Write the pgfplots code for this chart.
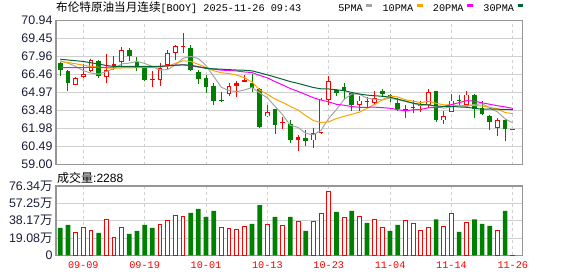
\documentclass[border=0pt]{standalone}
\usepackage{pgfplots}
\usepackage{pgfplotstable}
\pgfplotsset{compat=1.18}
\usepackage{fontspec}
\setmainfont{Liberation Sans}
\newfontfamily\cjk{Noto Sans CJK SC}
\newfontfamily\mono{Liberation Mono}

\definecolor{upred}{RGB}{255,0,0}
\definecolor{dngreen}{RGB}{0,128,0}
\definecolor{maA}{RGB}{165,165,165}
\definecolor{maB}{RGB}{250,165,0}
\definecolor{maC}{RGB}{255,0,255}
\definecolor{maD}{RGB}{0,102,51}
\definecolor{tickc}{RGB}{25,30,55}
\definecolor{framec}{RGB}{150,150,150}
\definecolor{gridc}{RGB}{208,208,208}

\pgfplotsset{candle/.style={draw=none, mark=none, forget plot,
  error bars/.cd, y dir=plus, y explicit, error mark=none}}

% up candles (close > open), hollow red
\pgfplotstableread{
x o h l c
2 65.61 66.30 65.58 66.19
3 66.25 67.32 66.22 66.53
4 66.76 67.75 66.70 67.64
6 66.26 68.20 65.75 66.88
8 67.50 68.72 67.15 68.53
13 66.06 67.44 65.51 67.02
14 67.30 68.54 66.89 68.26
15 68.30 68.95 67.72 68.85
22 64.87 65.78 64.68 65.51
27 63.00 63.99 62.98 63.38
33 61.01 62.06 60.41 61.64
34 61.64 64.54 61.56 64.40
35 64.40 66.39 63.99 65.92
39 63.93 64.68 63.44 64.32
41 64.12 65.15 63.99 64.54
48 63.99 65.31 63.66 65.04
50 62.67 63.44 62.39 63.02
51 63.38 64.87 63.38 64.32
53 63.99 65.15 63.85 64.82
57 62.01 62.89 61.37 62.72
}\upc

% small red candles (thin body)
\pgfplotstableread{
x o h l c
7 67.18 68.00 66.88 67.38
12 66.06 66.75 65.42 66.12
16 68.80 69.95 68.28 68.86
23 65.54 65.92 64.60 65.74
24 65.87 66.47 65.85 66.06
29 62.44 62.94 61.92 62.50
31 61.07 61.45 60.13 61.28
46 63.73 64.40 63.25 63.79
47 63.86 64.32 63.38 63.92
}\smallc

% down candles, filled green
\pgfplotstableread{
x o h l c
0 67.46 67.52 66.38 66.88
1 66.81 66.87 65.09 65.77
5 67.63 67.66 66.22 66.35
9 68.54 68.68 67.63 67.99
10 67.52 67.91 66.74 67.02
11 67.02 67.06 65.98 66.06
17 68.68 68.90 66.75 66.89
18 66.69 66.89 65.70 66.14
19 66.20 66.47 64.95 65.42
20 65.51 65.78 63.99 64.32
21 64.39 65.04 64.21 64.32
25 65.78 66.53 65.04 65.37
26 65.31 65.36 62.06 62.11
28 63.58 63.62 61.56 62.28
30 62.39 62.67 60.82 61.01
32 61.23 61.84 60.51 60.95
36 65.20 65.31 64.68 64.93
37 65.42 65.78 64.40 65.15
38 64.95 65.04 63.44 63.93
40 64.27 64.60 63.66 64.21
42 65.15 65.31 64.60 64.87
43 64.76 64.87 64.21 64.70
44 64.13 64.54 63.44 63.58
45 63.62 63.91 62.89 63.56
49 65.15 65.15 62.56 62.67
52 64.40 64.78 63.85 64.33
54 64.76 64.90 62.89 63.58
55 63.71 64.32 63.16 63.22
56 63.02 63.08 61.86 62.56
58 62.72 62.83 60.96 61.92
59 61.96 62.00 61.85 61.91
}\dnc

% moving averages
\pgfplotstableread{
x ma5 ma10 ma20 ma30
0 67.62 67.55 67.05 67.75
1 67.42 67.47 67.05 67.68
2 67.15 67.37 67.05 67.62
3 66.80 67.25 67.05 67.56
4 66.60 67.15 67.07 67.45
5 66.51 67.08 67.08 67.35
6 66.72 67.02 67.08 67.22
7 66.97 67.00 67.10 67.15
8 67.36 67.02 67.12 67.15
9 67.43 67.02 67.12 67.15
10 67.56 67.04 67.12 67.15
11 67.40 67.06 67.12 67.15
12 67.14 67.06 67.12 67.15
13 66.84 67.10 67.15 67.15
14 66.89 67.16 67.20 67.20
15 67.26 67.41 67.25 67.25
16 67.82 67.61 67.28 67.28
17 67.97 67.56 67.20 67.25
18 67.80 67.32 67.10 67.12
19 67.23 67.06 67.04 66.98
20 66.32 66.79 66.92 66.95
21 65.42 66.62 66.84 66.92
22 65.14 66.56 66.81 66.88
23 65.06 66.43 66.77 66.85
24 65.19 66.21 66.69 66.83
25 65.40 65.86 66.64 66.78
26 64.96 65.19 66.40 66.62
27 64.53 64.84 66.20 66.45
28 63.84 64.45 65.89 66.27
29 63.13 64.16 65.61 66.08
30 62.26 63.83 65.31 65.89
31 62.09 63.53 65.08 65.74
32 61.60 63.07 64.82 65.57
33 61.48 62.66 64.55 65.40
34 61.86 62.50 64.36 65.29
35 62.84 62.55 64.21 65.28
36 63.57 62.83 64.01 65.21
37 64.41 63.01 63.93 65.14
38 64.87 63.18 63.82 64.99
39 64.85 63.36 63.76 64.86
40 64.51 63.68 63.76 64.77
41 64.43 64.00 63.77 64.72
42 64.37 64.39 63.73 64.67
43 64.53 64.70 63.68 64.60
44 64.38 64.62 63.56 64.44
45 64.25 64.38 63.47 64.27
46 64.10 64.27 63.55 64.10
47 63.91 64.14 63.58 64.00
48 63.98 64.26 63.72 63.96
49 63.80 64.09 63.73 63.87
50 63.69 63.97 63.83 63.83
51 63.79 63.95 63.98 63.83
52 63.88 63.90 64.15 63.79
53 63.83 63.91 64.31 63.76
54 64.01 63.91 64.27 63.68
55 64.05 63.87 64.13 63.60
56 63.70 63.75 64.01 63.62
57 63.38 63.63 63.89 63.60
58 62.80 63.32 63.79 63.59
59 62.47 63.24 63.67 63.57
}\mas

% volume (10k lots)
\pgfplotstableread{
x v
2 25.7
3 30.8
4 27.9
6 39.6
7 19.8
8 30.8
13 34.1
14 38.9
15 44.0
16 43.3
21 30.8
22 30.1
23 29.0
24 31.9
27 34.1
29 33.0
31 37.8
33 37.8
34 46.2
35 70.5
37 41.8
39 42.9
41 39.6
42 30.8
45 38.5
46 35.2
47 27.9
48 30.8
50 31.9
51 46.2
53 36.3
57 27.9
59 0.2288
}\volup

\pgfplotstableread{
x v
0 30.1
1 33.4
5 24.6
9 23.5
10 26.8
11 33.4
12 30.1
17 46.6
18 51.0
19 42.2
20 48.8
25 34.5
26 55.4
28 42.2
30 42.2
32 26.8
36 47.7
38 48.8
40 35.6
43 26.8
44 33.4
49 39.6
52 25.7
54 39.6
55 34.5
56 32.3
58 48.8
}\voldn

\begin{document}
\begin{tikzpicture}
\path[use as bounding box] (0bp,0bp) rectangle (578bp,276bp);

% title
\node[anchor=west, inner sep=0pt] at (56bp,268bp)
  {{\cjk\fontsize{11.6bp}{13bp}\selectfont 布伦特原油当月连续}{\mono\fontsize{10.2bp}{12bp}\selectfont [BOOY] 2025-11-26 09:43}};

\begin{axis}[
  at={(56bp,111.3bp)}, anchor=south west, scale only axis,
  width=466.7bp, height=144bp,
  xmin=-0.56, xmax=60.29, ymin=59, ymax=70.94,
  axis line style={draw=framec, line width=1.1bp},
  xtick={3,11,19,27,35,43,51,59}, xticklabels={},
  ytick={59,60.4925,61.985,63.4775,64.97,66.4625,67.955,69.4475,70.94},
  yticklabels={59.00,60.49,61.98,63.48,64.97,66.46,67.96,69.45,70.94},
  tick style={draw=none},
  xmajorgrids, ymajorgrids,
  x grid style={draw=gridc, line width=0.8bp, dash pattern=on 3bp off 3bp},
  y grid style={draw=gridc, line width=0.8bp},
  yticklabel style={font=\fontsize{12.4bp}{14bp}\selectfont, text=tickc, inner sep=0pt, xshift=-3.3bp},
  legend style={at={(0.6049,1.0847)}, anchor=west, draw=none, fill=none,
    inner sep=0pt, outer sep=0pt,
    font=\mono\fontsize{10.2bp}{12bp}\selectfont,
    nodes={inner sep=0pt},
    /tikz/every odd column/.append style={column sep=2.4bp},
    /tikz/every even column/.append style={column sep=9.2bp}},
  legend columns=4,
  legend plot pos=right,
  legend image code/.code={\draw[#1, line width=2.4bp] (0bp,3.4bp) -- (5.8bp,3.4bp);},
]
% wicks
\addplot[candle, error bar style={draw=upred, solid, line width=1bp}]
  table[x=x, y=l, y error plus expr=\thisrow{h}-\thisrow{l}] {\upc};
\addplot[candle, error bar style={draw=upred, solid, line width=1bp}]
  table[x=x, y=l, y error plus expr=\thisrow{h}-\thisrow{l}] {\smallc};
\addplot[candle, error bar style={draw=dngreen, solid, line width=1bp}]
  table[x=x, y=l, y error plus expr=\thisrow{h}-\thisrow{l}] {\dnc};
% bodies
\addplot[candle, error bar style={draw=dngreen, solid, line width=4.7bp}]
  table[x=x, y=c, y error plus expr=\thisrow{o}-\thisrow{c}] {\dnc};
\addplot[candle, error bar style={draw=upred, solid, line width=4.7bp}]
  table[x=x, y=o, y error plus expr=\thisrow{c}-\thisrow{o}] {\smallc};
\addplot[candle, error bar style={draw=upred, solid, line width=4.7bp}]
  table[x=x, y=o, y error plus expr=\thisrow{c}-\thisrow{o}] {\upc};
\addplot[candle, error bar style={draw=white, solid, line width=2.9bp, shorten <=0.9bp, shorten >=0.9bp}]
  table[x=x, y=o, y error plus expr=\thisrow{c}-\thisrow{o}] {\upc};
% moving averages
\addplot[maA, line width=1bp, mark=none] table[x=x, y=ma5] {\mas};
\addlegendentry{5PMA}
\addplot[maB, line width=1bp, mark=none] table[x=x, y=ma10] {\mas};
\addlegendentry{10PMA}
\addplot[maC, line width=1bp, mark=none] table[x=x, y=ma20] {\mas};
\addlegendentry{20PMA}
\addplot[maD, line width=1bp, mark=none] table[x=x, y=ma30] {\mas};
\addlegendentry{30PMA}
\end{axis}

% volume title
\node[anchor=west, inner sep=0pt] at (57bp,98.5bp)
  {\fontsize{12bp}{14bp}\selectfont{\cjk 成交量}:2288};

\begin{axis}[
  at={(56bp,20.7bp)}, anchor=south west, scale only axis,
  width=466.7bp, height=69.3bp,
  xmin=-0.56, xmax=60.29, ymin=0, ymax=76.34,
  axis line style={draw=framec, line width=1.1bp},
  xtick={3,11,19,27,35,43,51,59},
  xticklabels={09-09,09-19,10-01,10-13,10-23,11-04,11-14,11-26},
  ytick={0,19.085,38.17,57.255,76.34},
  yticklabels={0,19.08{\cjk 万},38.17{\cjk 万},57.25{\cjk 万},76.34{\cjk 万}},
  tick style={draw=none},
  xmajorgrids, ymajorgrids,
  x grid style={draw=gridc, line width=0.8bp, dash pattern=on 3bp off 3bp},
  y grid style={draw=gridc, line width=0.8bp},
  yticklabel style={font=\fontsize{12.4bp}{14bp}\selectfont, text=tickc, inner sep=0pt, xshift=-3.3bp},
  xticklabel style={font=\mono\fontsize{10.2bp}{12bp}\selectfont, text=upred, inner sep=0pt, anchor=north, yshift=-6.2bp},
]
\addplot[ybar, bar shift=0pt, bar width=4.7bp, draw=none, fill=dngreen] table[x=x, y=v] {\voldn};
\addplot[ybar, bar shift=0pt, bar width=3.8bp, draw=upred, fill=white, line width=0.9bp] table[x=x, y=v] {\volup};
\end{axis}
\end{tikzpicture}
\end{document}
